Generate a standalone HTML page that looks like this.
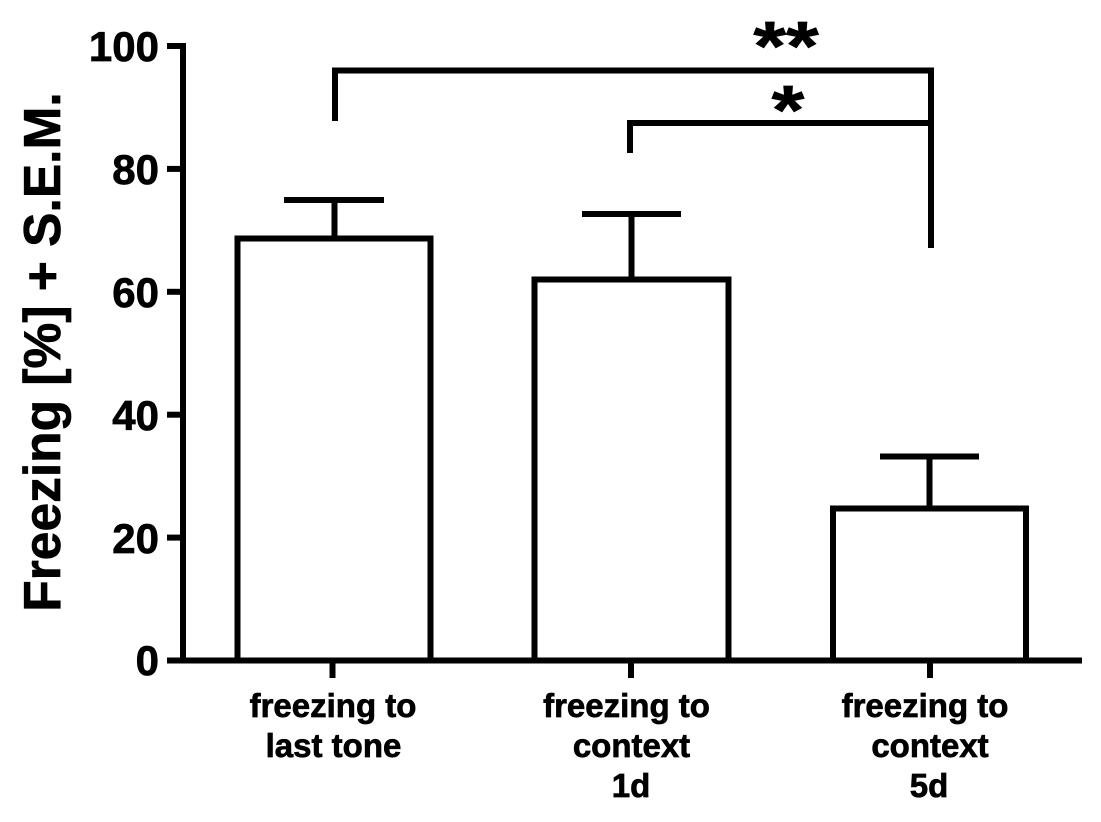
<!DOCTYPE html>
<html>
<head>
<meta charset="utf-8">
<style>
html,body{margin:0;padding:0;background:#fff;}
svg{display:block;}
text{font-family:"Liberation Sans",Arial,sans-serif;font-weight:bold;fill:#000;stroke:#000;stroke-width:0.7px;}
</style>
</head>
<body>
<svg width="1101" height="822" viewBox="0 0 1101 822" xmlns="http://www.w3.org/2000/svg">
<rect x="0" y="0" width="1101" height="822" fill="#fff"/>
<g stroke="#000" stroke-width="6" fill="none" stroke-linejoin="miter" stroke-linecap="butt">
  <!-- y axis -->
  <line x1="183" y1="43" x2="183" y2="663.5"/>
  <line x1="167" y1="46" x2="183" y2="46"/>
  <line x1="167" y1="168.9" x2="183" y2="168.9"/>
  <line x1="167" y1="291.8" x2="183" y2="291.8"/>
  <line x1="167" y1="414.7" x2="183" y2="414.7"/>
  <line x1="167" y1="537.6" x2="183" y2="537.6"/>
  <!-- x axis -->
  <line x1="167" y1="660.5" x2="1082" y2="660.5"/>
  <line x1="332.5" y1="660" x2="332.5" y2="678"/>
  <line x1="631" y1="660" x2="631" y2="678"/>
  <line x1="930" y1="660" x2="930" y2="678"/>
  <!-- bars -->
  <polyline points="237.5,660.5 237.5,238.5 430.5,238.5 430.5,660.5"/>
  <polyline points="534.5,660.5 534.5,279.5 728.5,279.5 728.5,660.5"/>
  <polyline points="833,660.5 833,508.5 1026,508.5 1026,660.5"/>
  <!-- error bars -->
  <line x1="334.5" y1="238.5" x2="334.5" y2="200"/>
  <line x1="284" y1="200" x2="384" y2="200"/>
  <line x1="631.5" y1="279.5" x2="631.5" y2="214"/>
  <line x1="582" y1="214" x2="681" y2="214"/>
  <line x1="929.5" y1="508.5" x2="929.5" y2="456.5"/>
  <line x1="880" y1="456.5" x2="979" y2="456.5"/>
  <!-- significance brackets -->
  <polyline points="335,121 335,70.5 931,70.5 931,248"/>
  <polyline points="630,153 630,123 931,123"/>
</g>
<!-- y tick labels -->
<g font-size="42" text-anchor="end">
  <text x="159" y="61">100</text>
  <text x="159" y="184">80</text>
  <text x="159" y="307">60</text>
  <text x="159" y="430">40</text>
  <text x="159" y="553">20</text>
  <text x="159" y="675">0</text>
</g>
<!-- y axis title -->
<text font-size="51.5" text-anchor="middle" transform="translate(60,352) rotate(-90)">Freezing [%] + S.E.M.</text>
<!-- x labels -->
<g font-size="33" text-anchor="middle">
  <text x="333" y="717">freezing to</text>
  <text x="333.5" y="757">last tone</text>
  <text x="626.5" y="717">freezing to</text>
  <text x="631.5" y="757">context</text>
  <text x="631" y="797">1d</text>
  <text x="925" y="717">freezing to</text>
  <text x="930" y="757">context</text>
  <text x="929" y="797">5d</text>
</g>
<!-- asterisks -->
<g font-size="70" text-anchor="middle">
  <text x="0" y="0" transform="translate(786,70) scale(1.2,1)">**</text>
  <text x="0" y="0" transform="translate(788,134) scale(1.2,1)">*</text>
</g>
</svg>
</body>
</html>
